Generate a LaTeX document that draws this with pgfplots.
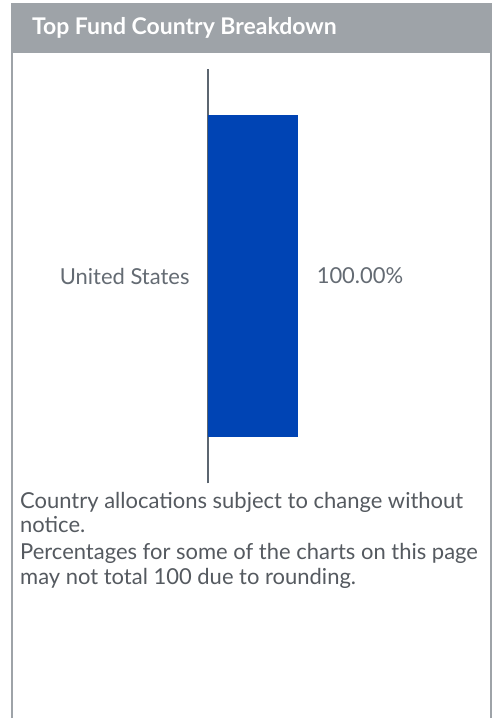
\documentclass[border=0pt]{standalone}
\usepackage{fontspec}
\setmainfont{Lato}
\usepackage{pgfplots}
\pgfplotsset{compat=1.18}

\definecolor{framegray}{HTML}{9EA3A8}
\definecolor{axisgray}{HTML}{5C6670}
\definecolor{labelgray}{HTML}{646B73}
\definecolor{notegray}{HTML}{555A60}
\definecolor{barblue}{HTML}{0044B4}

\begin{document}
\begin{tikzpicture}
\begin{scope}[x=1pt,y=1pt]
  % page and panel frame (1 unit = 1 pixel of the reference)
  \path[fill=white] (0,0) rectangle (498,719);
  \fill[framegray] (11,666) rectangle (493,716);
  \draw[framegray, line width=2pt] (12,0) -- (12,715) -- (492,715) -- (492,0);
  \node[anchor=base west, inner sep=0pt, text=white,
        font=\fontsize{23}{26}\selectfont\bfseries] at (32,684) {Top Fund Country Breakdown};
  % footnote, one node per line
  \begin{scope}[every node/.style={anchor=base west, inner sep=0pt, text=notegray,
                                    font=\fontsize{22}{26}\selectfont}]
    \node at (20,210) {Country allocations subject to change without};
    \node at (20,186) {notice.};
    \node at (20,159) {Percentages for some of the charts on this page};
    \node at (20,134) {may not total 100 due to rounding.};
  \end{scope}
\end{scope}

\begin{axis}[
    at={(208pt,235pt)}, anchor=south west,
    scale only axis,
    width=90pt, height=415pt,
    xbar,
    bar width=322pt,
    xmin=0, xmax=100,
    ymin=-1, ymax=1,
    axis x line=none,
    axis y line=left,
    y axis line style={-, draw=axisgray, line width=2pt},
    ytick={0},
    yticklabels={United States},
    major tick length=0pt,
    yticklabel style={font=\fontsize{22}{26}\selectfont, text=labelgray,
                      inner sep=0pt, xshift=-18pt},
    nodes near coords={\pgfmathprintnumber[fixed,fixed zerofill,precision=2,assume math mode=true]{\pgfplotspointmeta}\%},
    nodes near coords style={font=\fontsize{22}{26}\selectfont, text=labelgray,
                             anchor=west, inner sep=0pt, xshift=19pt},
    clip=false,
]
\addplot[fill=barblue, draw=none] coordinates {(100,0)};
\end{axis}
\end{tikzpicture}
\end{document}
